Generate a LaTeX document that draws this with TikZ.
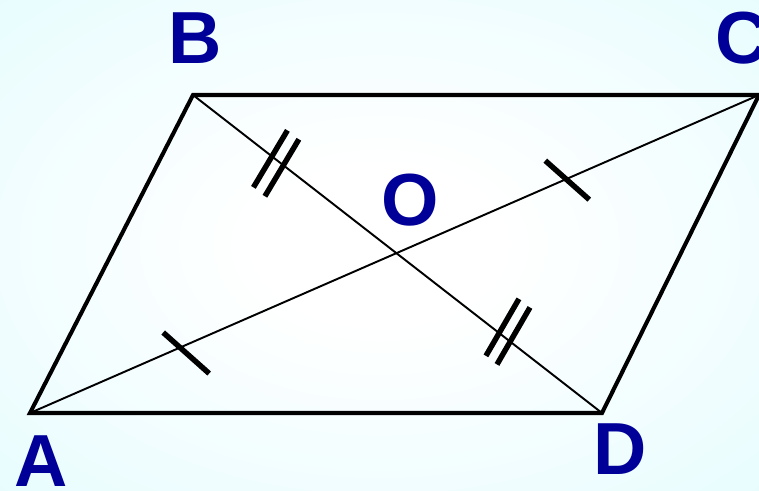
\documentclass[tikz,border=0pt]{standalone}
\usepackage{fontspec}
\setmainfont{Liberation Sans}
\usetikzlibrary{calc}
\definecolor{lblue}{RGB}{0,0,153}
\definecolor{bgcyan}{RGB}{220,251,254}
\pgfdeclareradialshading{bgglow}{\pgfpoint{0bp}{0bp}}{color(0bp)=(white); color(8bp)=(white); color(50bp)=(bgcyan)}

\begin{document}
\begin{tikzpicture}[
  side/.style={line width=2.3pt},
  diag/.style={line width=1.1pt},
  eqtick/.style={line width=3.1pt},
  vlabel/.style={text=lblue, font=\fontsize{42}{42}\selectfont\bfseries, inner sep=0pt},
]
  \useasboundingbox (0,0) rectangle (15.18,9.8);
  \shade[shading=bgglow] (0,0) rectangle (15.18,9.8);

  \coordinate (A) at (0.60,1.54);
  \coordinate (B) at (3.86,7.90);
  \coordinate (C) at (15.18,7.90);
  \coordinate (D) at (12.04,1.54);

  \draw[diag] (A) -- (C);
  \draw[diag] (B) -- (D);
  \draw[side] (A) -- (B) -- (C) -- (D) -- cycle;

  \draw[eqtick] ($(A)!0.206!(C)+(-0.34,0.30)$) -- ($(A)!0.206!(C)+(0.58,-0.52)$);
  \draw[eqtick] ($(A)!0.737!(C)+(-0.44,0.36)$) -- ($(A)!0.737!(C)+(0.44,-0.42)$);
  \foreach \t in {0.193,0.221}
    \draw[eqtick] ($(B)!\t!(D)+(-0.37,-0.62)$) -- ($(B)!\t!(D)+(0.31,0.52)$);
  \foreach \t in {0.748,0.775}
    \draw[eqtick] ($(B)!\t!(D)+(-0.26,-0.46)$) -- ($(B)!\t!(D)+(0.40,0.68)$);

  \node[vlabel] (lB) at (3.90,9.04) {B};
  \node[vlabel] (lC) at (14.84,9.04) {C};
  \node[vlabel] (lO) at (8.20,5.80) {O};
  \node[vlabel] (lA) at (0.82,0.58) {A};
  \node[vlabel] (lD) at (12.40,0.82) {D};
\end{tikzpicture}
\end{document}
